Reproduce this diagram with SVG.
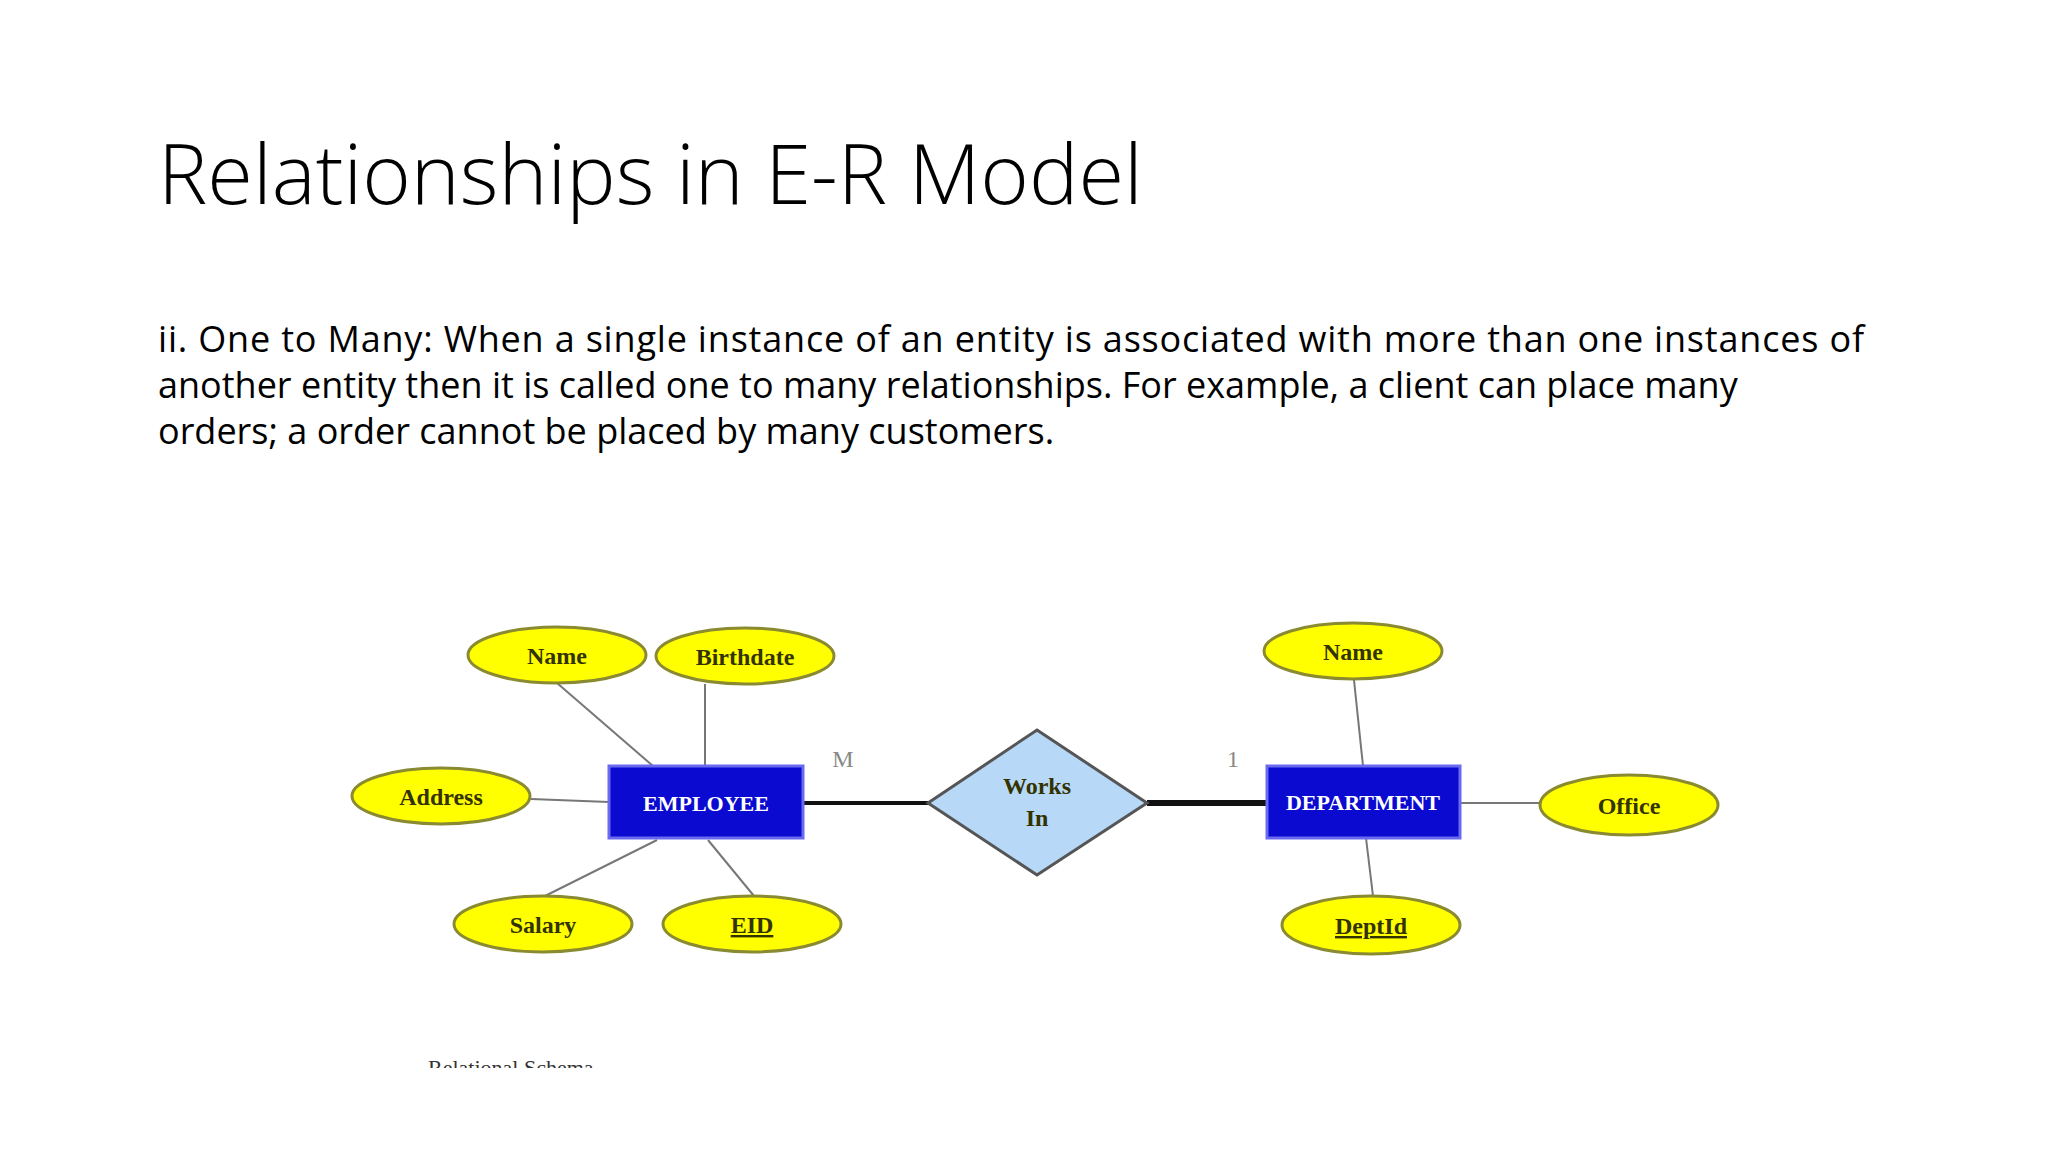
<svg xmlns="http://www.w3.org/2000/svg" width="2048" height="1152" viewBox="0 0 2048 1152">
<style>
.t{font-family:"Open Sans","Liberation Sans",sans-serif;fill:#000}
.a{fill:#ffff00;stroke:#8a8a30;stroke-width:3}
.al{font-family:"Liberation Serif",serif;font-size:24px;font-weight:bold;fill:#333300;text-anchor:middle}
.e{fill:#0a0ad0;stroke:#6a6af0;stroke-width:3}
.el{font-family:"Liberation Serif",serif;font-size:22px;font-weight:bold;fill:#fff;text-anchor:middle}
.ln{stroke:#777;stroke-width:2;fill:none}
</style>
<rect width="2048" height="1152" fill="#fff"/>
<text class="t" x="158" y="204" font-size="83" font-weight="300">Relationships in E-R Model</text>
<g class="t" font-size="36">
<text x="158" y="352" textLength="1706">ii. One to Many: When a single instance of an entity is associated with more than one instances of</text>
<text x="158" y="398">another entity then it is called one to many relationships. For example, a client can place many</text>
<text x="158" y="444">orders; a order cannot be placed by many customers.</text>
</g>
<g transform="translate(-9,-9)">
<g id="connectors">
<line class="ln" x1="566" y1="692" x2="662" y2="775"/>
<line class="ln" x1="714" y1="693" x2="714" y2="775"/>
<line class="ln" x1="540" y1="808" x2="618" y2="811"/>
<line class="ln" x1="666" y1="849" x2="554" y2="905"/>
<line class="ln" x1="717" y1="849" x2="763" y2="905"/>
<line x1="812" y1="812" x2="937" y2="812" stroke="#111" stroke-width="4"/>
<line x1="1156" y1="812" x2="1276" y2="812" stroke="#111" stroke-width="6"/>
<line class="ln" x1="1363" y1="689" x2="1372" y2="775"/>
<line class="ln" x1="1469" y1="812" x2="1548" y2="812" stroke-width="3"/>
<line class="ln" x1="1375" y1="847" x2="1382" y2="905"/>
</g>
<g id="emp-name"><ellipse class="a" cx="566" cy="664" rx="89" ry="28"/><text class="al" x="566" y="673">Name</text></g>
<g id="birthdate"><ellipse class="a" cx="754" cy="665" rx="89" ry="28"/><text class="al" x="754" y="674">Birthdate</text></g>
<g id="address"><ellipse class="a" cx="450" cy="805" rx="89" ry="28"/><text class="al" x="450" y="814">Address</text></g>
<g id="salary"><ellipse class="a" cx="552" cy="933" rx="89" ry="28"/><text class="al" x="552" y="942">Salary</text></g>
<g id="eid"><ellipse class="a" cx="761" cy="933" rx="89" ry="28"/><text class="al" x="761" y="942" text-decoration="underline">EID</text></g>
<g id="employee"><rect class="e" x="618" y="775" width="194" height="72"/><text class="el" x="715" y="820">EMPLOYEE</text></g>
<g id="works-in"><polygon points="1046,739 1156,812 1046,884 937,812" fill="#b8d8f8" stroke="#555" stroke-width="3"/><text class="al" fill="#556" x="1046" y="803" font-weight="normal">Works</text><text class="al" fill="#556" x="1046" y="835" font-weight="normal">In</text></g>
<g id="department"><rect class="e" x="1276" y="775" width="193" height="72"/><text class="el" x="1372" y="819">DEPARTMENT</text></g>
<g id="dept-name"><ellipse class="a" cx="1362" cy="660" rx="89" ry="28"/><text class="al" x="1362" y="669">Name</text></g>
<g id="office"><ellipse class="a" cx="1638" cy="814" rx="89" ry="30"/><text class="al" x="1638" y="823">Office</text></g>
<g id="deptid"><ellipse class="a" cx="1380" cy="934" rx="89" ry="29"/><text class="al" x="1380" y="943" text-decoration="underline">DeptId</text></g>
<text x="852" y="776" font-family="Liberation Serif,serif" font-size="24" fill="#888" text-anchor="middle">M</text>
<text x="1242" y="776" font-family="Liberation Serif,serif" font-size="24" fill="#888" text-anchor="middle">1</text>
</g>
<clipPath id="c"><rect x="400" y="1050" width="400" height="18"/></clipPath>
<text clip-path="url(#c)" x="428" y="1075" font-family="Liberation Serif,serif" font-size="22" fill="#333">Relational Schema</text>
</svg>
